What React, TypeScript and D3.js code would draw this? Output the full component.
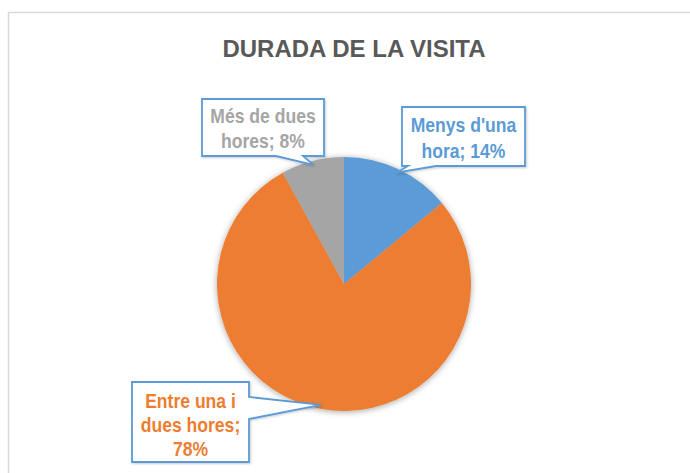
import * as d3 from "d3";

// dades del gràfic
const categories = ["Menys d'una hora", "Entre una i dues hores", "Més de dues hores"];
const values = [14, 78, 8];
const labelLines = [
  ["Menys d'una", "hora; 14%"],
  ["Entre una i", "dues hores;", "78%"],
  ["Més de dues", "hores; 8%"],
];
const colors = ["#5B9BD5", "#ED7D31", "#A5A5A5"];

const W = 690;
const H = 473;
const cx = 344;
const cy = 284;
const radius = 127;

// caixes de les etiquetes (x0, y0, x1, y1), costat de la fletxa i base
const boxes = [
  { x0: 402, y0: 107, x1: 525, y1: 166, side: "bottom", b0: 408, b1: 436, lineY: 132, step: 26 },
  { x0: 132, y0: 382, x1: 249, y1: 462, side: "right", b0: 397, b1: 419, lineY: 408, step: 24 },
  { x0: 202, y0: 99, x1: 324, y1: 156, side: "bottom", b0: 276, b1: 303, lineY: 123, step: 25 },
];

const calloutPath = (b, tx, ty) => {
  if (b.side === "bottom") {
    return `M${b.x0},${b.y0}H${b.x1}V${b.y1}H${b.b1}L${tx},${ty}L${b.b0},${b.y1}H${b.x0}Z`;
  }
  return `M${b.x0},${b.y0}H${b.x1}V${b.b0}L${tx},${ty}L${b.x1},${b.b1}V${b.y1}H${b.x0}Z`;
};

const App = () => {
  const pie = d3.pie<number>().sort(null).value(d => d);
  const arcs = pie(values);
  const arc = d3.arc<d3.PieArcDatum<number>>().innerRadius(0).outerRadius(radius);
  const tipArc = d3.arc<d3.PieArcDatum<number>>().innerRadius(radius - 4).outerRadius(radius - 4);

  return (
    <div style={{ position: "fixed", left: 0, top: 0 }}>
      <svg width={W} height={H} style={{ display: "block", background: "#fff" }}>
        <defs>
          <filter id="shadow" x="-20%" y="-20%" width="140%" height="140%">
            <feDropShadow dx="0" dy="1" stdDeviation="3" floodColor="#000" floodOpacity="0.35" />
          </filter>
          <filter id="boxShadow" x="-20%" y="-20%" width="140%" height="140%">
            <feDropShadow dx="1" dy="1" stdDeviation="1" floodColor="#000" floodOpacity="0.2" />
          </filter>
        </defs>
        {/* vora del gràfic */}
        <rect x={8.5} y={12.5} width={W} height={H} fill="#fff" stroke="#D9D9D9" strokeWidth={1.5} />

        {/* títol */}
        <text x={354} y={57} textAnchor="middle" fill="#595959"
          style={{ fontFamily: "Liberation Sans, Arial, sans-serif", fontWeight: "bold", fontSize: 24 }}>
          DURADA DE LA VISITA
        </text>

        {/* pastís */}
        <g transform={`translate(${cx},${cy})`} filter="url(#shadow)">
          {arcs.map((a, i) => (
            <path key={categories[i]} d={arc(a) || ""} fill={colors[i]} />
          ))}
        </g>

        {/* etiquetes amb fletxa */}
        {arcs.map((a, i) => {
          const [tx, ty] = tipArc.centroid(a);
          const b = boxes[i];
          const mid = (b.x0 + b.x1) / 2;
          return (
            <g key={"lbl" + i}>
              <path d={calloutPath(b, cx + tx, cy + ty)} fill="#fff" stroke="#5B9BD5"
                strokeWidth={1.8} strokeLinejoin="miter" filter="url(#boxShadow)" />
              <g transform={`translate(${mid},0) scale(0.9,1)`}>
                <text textAnchor="middle" fill={colors[i]}
                  style={{ fontFamily: "Liberation Sans, Arial, sans-serif", fontWeight: "bold", fontSize: 19.5 }}>
                  {labelLines[i].map((l, j) => (
                    <tspan key={j} x={0} y={b.lineY + j * b.step}>{l}</tspan>
                  ))}
                </text>
              </g>
            </g>
          );
        })}
      </svg>
    </div>
  );
};

export default App;
